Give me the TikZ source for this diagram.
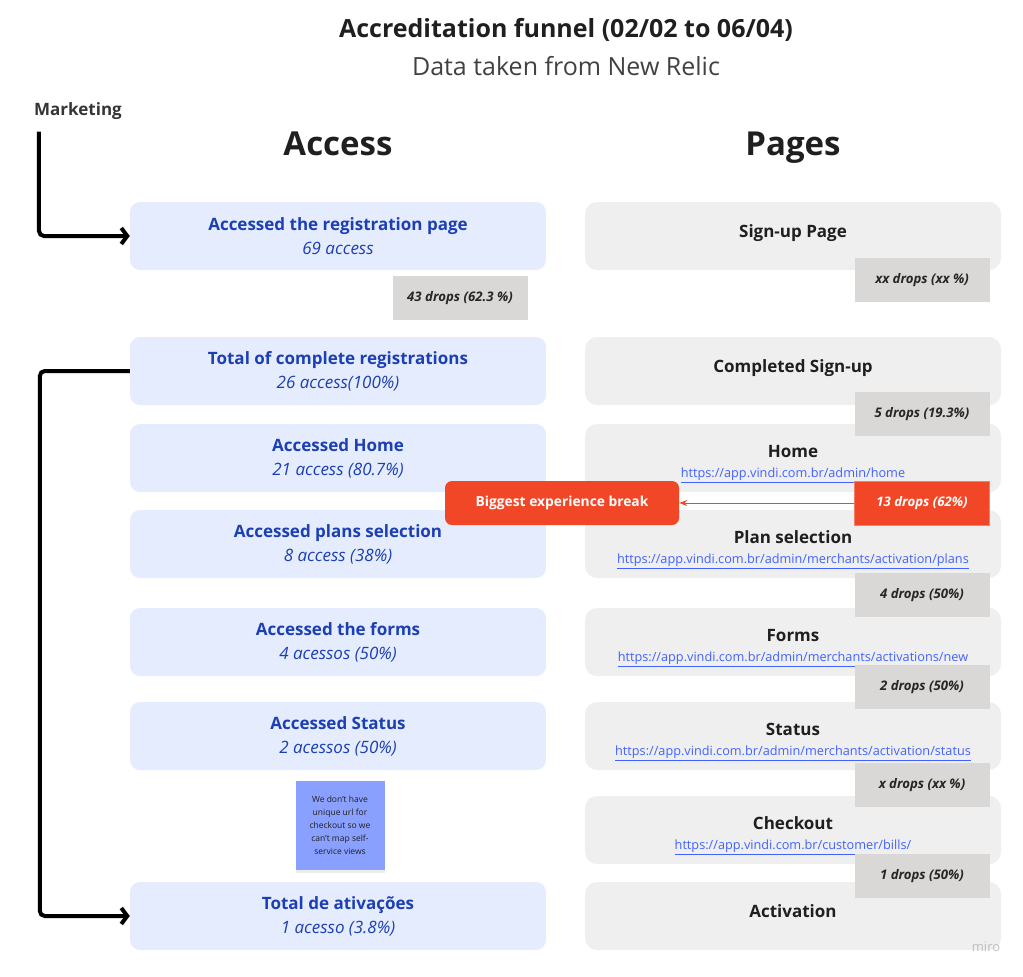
\documentclass[tikz,border=0pt]{standalone}
\usepackage{fontspec}
\setmainfont{Open Sans}
\usepackage{tikz}
\usetikzlibrary{arrows.meta,shadows}

\definecolor{accessblue}{HTML}{E5ECFD}
\definecolor{accesstext}{HTML}{1C3FB3}
\definecolor{pagegrey}{HTML}{EFEFEF}
\definecolor{pagetext}{HTML}{1F1F1F}
\definecolor{dropgrey}{HTML}{D9D8D6}
\definecolor{droptext}{HTML}{262626}
\definecolor{breakred}{HTML}{F24726}
\definecolor{urlblue}{HTML}{4262FF}
\definecolor{stickyblue}{HTML}{8AA0FF}
\newcommand{\weblink}[1]{{\color{urlblue}\underline{#1}}}

\tikzset{
  accessbox/.style={rounded corners=10pt,fill=accessblue,minimum width=416pt,minimum height=68pt,inner sep=0pt,align=center,text=accesstext,font=\fontsize{17}{24}\selectfont},
  pagebox/.style={rounded corners=12pt,fill=pagegrey,minimum width=416pt,minimum height=68pt,inner sep=0pt,align=center,text=pagetext,font=\fontsize{17}{20}\selectfont},
  pagesingle/.style={pagebox,text depth=10pt},
  pagedouble/.style={pagebox,text height=44pt},
  dropbox/.style={fill=dropgrey,minimum width=135pt,minimum height=44pt,inner sep=0pt,text=droptext,font=\fontsize{13.2}{15}\selectfont\bfseries\itshape},
  flowarrow/.style={line width=4pt,rounded corners=5pt,-{Straight Barb[length=6pt,width=16pt]}},
  heading/.style={anchor=base,text=pagetext,font=\fontsize{33}{38}\selectfont\bfseries},
}

\begin{document}
\begin{tikzpicture}[x=1pt,y=-1pt]
  \useasboundingbox (0,0) rectangle (1023,977);

  % titles
  \node[text=pagetext,font=\fontsize{25}{30}\selectfont\bfseries] (title) at (566,30) {Accreditation funnel (02/02 to 06/04)};
  \node[text=pagetext!85,font=\fontsize{25}{30}\selectfont] (subtitle) at (566,66) {Data taken from New Relic};
  \node[text=pagetext!90,font=\fontsize{17}{20}\selectfont\bfseries,inner sep=0pt] (marketing) at (78,111) {Marketing};
  \node[heading] (accesshead) at (338,155) {Access};
  \node[heading] (pageshead) at (793,155) {Pages};

  % access column
  \node[accessbox] (regpage) at (338,236) {{\bfseries Accessed the registration page}\\{\itshape 69 access}};
  \node[accessbox] (totalreg) at (338,371) {{\bfseries Total of complete registrations}\\{\itshape 26 access(100\%)}};
  \node[accessbox] (home) at (338,458) {{\bfseries Accessed Home}\\{\itshape 21 access (80.7\%)}};
  \node[accessbox] (plans) at (338,544) {{\bfseries Accessed plans selection}\\{\itshape 8 access (38\%)}};
  \node[accessbox] (forms) at (338,642) {{\bfseries Accessed the forms}\\{\itshape 4 acessos (50\%)}};
  \node[accessbox] (status) at (338,736) {{\bfseries Accessed Status}\\{\itshape 2 acessos (50\%)}};
  \node[accessbox] (activations) at (338,916) {{\bfseries Total de ativações}\\{\itshape 1 acesso (3.8\%)}};
  \node[dropbox] (regdrop) at (460,298) {43 drops (62.3 \%)};

  % sticky note
  \node[fill=stickyblue,minimum width=89pt,minimum height=89pt,inner sep=0pt,align=center,
    text=pagetext,font=\fontsize{8.5}{13}\selectfont,
    drop shadow={opacity=0.15,shadow xshift=0pt,shadow yshift=-3pt}] (note) at (340,825)
    {We don't have\\unique url for\\checkout so we\\can't map self-\\service views};

  % pages column
  \node[pagesingle] (signup) at (793,236) {\bfseries Sign-up Page};
  \node[pagesingle] (completed) at (793,371) {\bfseries Completed Sign-up};
  \node[pagedouble] (homepage) at (793,458) {{\bfseries Home}\\{\fontsize{12.7}{15}\selectfont\weblink{https://app.vindi.com.br/admin/home}}};
  \node[pagedouble] (planpage) at (793,544) {{\bfseries Plan selection}\\{\fontsize{12.7}{15}\selectfont\weblink{https://app.vindi.com.br/admin/merchants/activation/plans}}};
  \node[pagedouble] (formpage) at (793,642) {{\bfseries Forms}\\{\fontsize{12.7}{15}\selectfont\weblink{https://app.vindi.com.br/admin/merchants/activations/new}}};
  \node[pagedouble] (statuspage) at (793,736) {{\bfseries Status}\\{\fontsize{12.7}{15}\selectfont\weblink{https://app.vindi.com.br/admin/merchants/activation/status}}};
  \node[pagedouble] (checkout) at (793,830) {{\bfseries Checkout}\\{\fontsize{12.7}{15}\selectfont\weblink{https://app.vindi.com.br/customer/bills/}}};
  \node[pagesingle] (activation) at (793,916) {\bfseries Activation};

  \node[dropbox] (signupdrop) at (922,280) {xx drops (xx \%)};
  \node[dropbox] (completeddrop) at (922,414) {5 drops (19.3\%)};
  \node[dropbox] (plandrop) at (922,595) {4 drops (50\%)};
  \node[dropbox] (formdrop) at (922,687) {2 drops (50\%)};
  \node[dropbox] (statusdrop) at (922,785) {x drops (xx \%)};
  \node[dropbox] (checkoutdrop) at (922,876) {1 drops (50\%)};

  % biggest break
  \node[dropbox,fill=breakred,draw=breakred!70,text=white] (bigdrop) at (922,503) {13 drops (62\%)};
  \node[fill=breakred,rounded corners=7pt,minimum width=234pt,minimum height=44pt,inner sep=0pt,
    text=white,font=\fontsize{13.8}{16}\selectfont\bfseries] (breakbox) at (562,503) {Biggest experience break};
  \draw[breakred,line width=1pt,-{Stealth[length=8pt,width=6pt]}] (bigdrop.west) -- (breakbox.east);

  % flow arrows
  \draw[flowarrow] ([xshift=5pt,yshift=-12pt]marketing.south west) |- (regpage.west);
  \draw[flowarrow] (totalreg.west) -- ++(-90,0) |- (activations.west);

  \node[text=black!25,font=\fontsize{13}{15}\selectfont] (watermark) at (986,947) {miro};
\end{tikzpicture}
\end{document}
